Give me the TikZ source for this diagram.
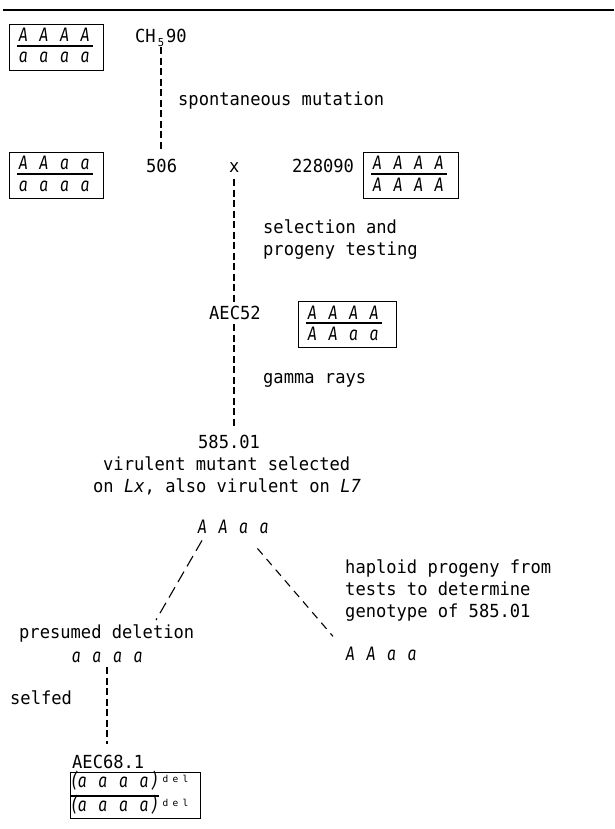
\documentclass[tikz,border=0pt]{standalone}
\usepackage{fontspec}
\setmainfont{DejaVu Sans Mono}[FakeStretch=0.95]
\newfontfamily\gfont{Fira Sans}[FakeStretch=0.8]
\newfontfamily\supfont{DejaVu Sans Mono}[LetterSpace=45]
\usetikzlibrary{calc}
\newlength\adv \setlength\adv{10.29pt}
\newcommand\gc[1]{\makebox[\adv][c]{#1}}
\newcommand\gsp{\hspace*{\adv}}
\newcommand\geno[4]{{\fontsize{19.5}{22}\selectfont\gfont\itshape\gc{#1}\gsp\gc{#2}\gsp\gc{#3}\gsp\gc{#4}}}
\newcommand\delrow{{\fontsize{19.5}{22}\selectfont\gfont\itshape\makebox[6pt][r]{(}\gc{a}\gsp\gc{a}\gsp\gc{a}\gsp\gc{a}\gc{)}}\hspace*{3pt}\raisebox{5pt}{\fontsize{9.5}{10}\selectfont\supfont del}}
\tikzset{
  txt/.style={inner sep=0pt, anchor=base west, font=\fontsize{18}{22}\selectfont},
  gbox/.style={draw, line width=1.3pt, inner sep=0pt},
  gsep/.style={line width=1.1pt},
  vdash/.style={line width=1.1pt, dash pattern=on 7pt off 3.5pt},
  ldash/.style={line width=1.1pt, dash pattern=on 12pt off 6pt},
  rdash/.style={line width=1.1pt, dash pattern=on 8pt off 6pt},
}
\newcommand\genobox[7]{%
  \node[gbox, minimum width=#4pt, minimum height=46pt, anchor=north west] (#1) at (#2,#3) {};
  \node[txt] (#1t) at ($(#1.north west)+(9,18)$) {#5};
  \node[txt] (#1b) at ($(#1.north west)+(9,39)$) {#6};
  \draw[gsep] ($(#1.north west)+(8,22)$) -- ++(#7,0);
}
\begin{document}
\begin{tikzpicture}[x=1pt,y=-1pt]
\useasboundingbox (0,0) rectangle (614,829);
\fill[white] (0,0) rectangle (614,829);
% top rule
\coordinate (r0) at (3,10);
\coordinate (r1) at (614,10);
\draw[line width=1.3pt] (r0) -- (r1);

% genotype boxes
\genobox{bA}{9}{24}{94}{\geno AAAA}{\geno aaaa}{76}
\genobox{bB}{9}{152}{94}{\geno AAaa}{\geno aaaa}{76}
\genobox{bC}{363}{152}{95}{\geno AAAA}{\geno AAAA}{76}
\genobox{bD}{298}{301}{98}{\geno AAAA}{\geno AAaa}{76}

% labels
\node[txt] (ch) at (135,43) {CH\makebox[\adv][c]{\raisebox{-4pt}{\fontsize{11}{11}\selectfont 5}}90};
\node[txt] (spm) at (178,106) {spontaneous mutation};
\node[txt] (n506) at (146,172) {506};
\node[txt] (nx) at (229,172) {x};
\node[txt] (n228) at (292,172) {228090};
\node[txt] (sel1) at (263,233) {selection and};
\node[txt] (sel2) at (263,255) {progeny testing};
\node[txt] (aec52) at (209,319) {AEC52};
\node[txt] (gam) at (263,383) {gamma rays};
\node[txt] (n585) at (198,448) {585.01};
\node[txt] (vir1) at (103,470) {virulent mutant selected};
\node[txt] (vir2) at (93,492) {on {\itshape Lx}, also virulent on {\itshape L7}};
\node[txt] (gtop) at (197,533) {\geno AAaa};
\node[txt] (hap1) at (345,573) {haploid progeny from};
\node[txt] (hap2) at (345,595) {tests to determine};
\node[txt] (hap3) at (345,617) {genotype of 585.01};
\node[txt] (pdel) at (19,638) {presumed deletion};
\node[txt] (gdel) at (71,662) {\geno aaaa};
\node[txt] (gright) at (345,660) {\geno AAaa};
\node[txt] (slf) at (10,704) {selfed};
\node[txt] (aec68) at (72,768) {AEC68.1};

% bottom box
\node[gbox, minimum width=130pt, minimum height=46pt, anchor=north west] (bE) at (70,772) {};
\node[txt] (bEt) at ($(bE.north west)+(1,15)$) {\delrow};
\node[txt] (bEb) at ($(bE.north west)+(1,39)$) {\delrow};
\draw[gsep] ($(bE.north west)+(0,24)$) -- ++(89,0);

% connectors
\coordinate (vx1) at (161,0);
\coordinate (vx2) at (234,0);
\coordinate (vx3) at (107,0);
\draw[vdash, shorten >=8pt] (ch.south -| vx1) -- (n506.north -| vx1);
\draw[vdash, shorten <=7pt, shorten >=2pt] (nx.south -| vx2) -- (aec52.north -| vx2);
\draw[vdash, shorten <=5pt, shorten >=5pt] (aec52.south -| vx2) -- (n585.north -| vx2);
\draw[ldash] ($(gtop.south west)+(5,7)$) -- ($(pdel.north west)+(137,-4)$);
\draw[rdash] ($(gtop.south east)+(-12,15)$) -- ($(gright.north west)+(-12,-10)$);
\draw[vdash, shorten <=5pt, shorten >=10pt] (gdel.south -| vx3) -- (aec68.north -| vx3);
\end{tikzpicture}
\end{document}
